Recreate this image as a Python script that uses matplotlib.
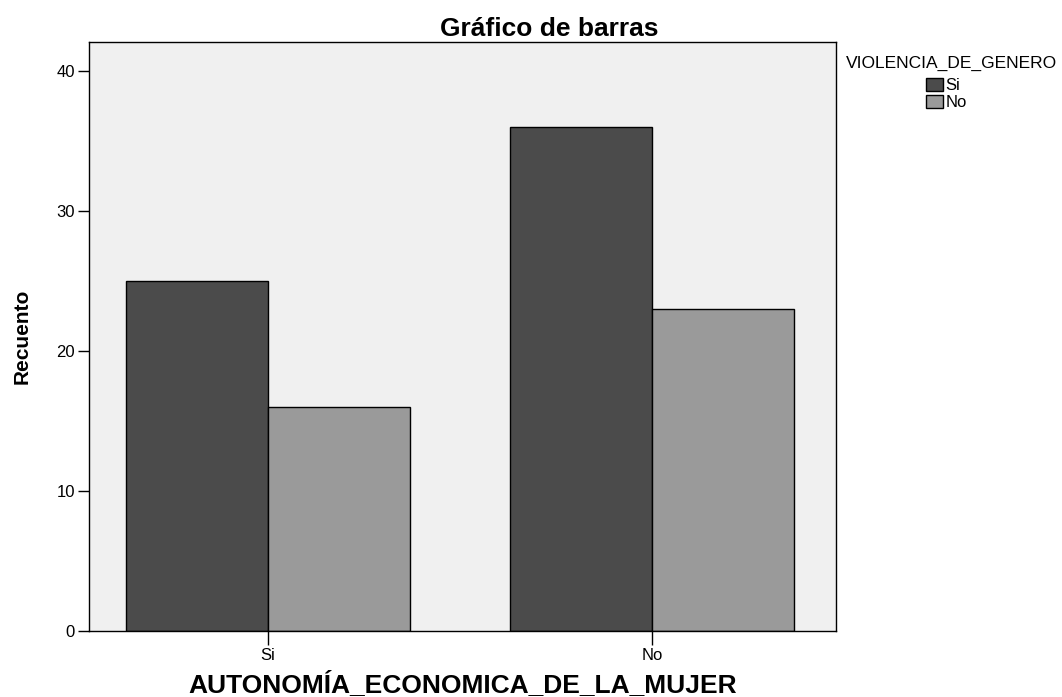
import numpy as np
import matplotlib.pyplot as plt

plt.rcParams['font.family'] = ['Liberation Sans', 'DejaVu Sans']

categories = ['Si', 'No']
groups = ['Si', 'No']
si_values = [25, 36]
no_values = [16, 23]

colors = {'Si': '#4b4b4b', 'No': '#9a9a9a'}

fig = plt.figure(figsize=(10.62, 6.97), dpi=100)
ax = fig.add_axes([0.0838, 0.0947, 0.7034, 0.845])
ax.set_facecolor('#f0f0f0')

x = np.arange(len(categories))
w = 0.37
b1 = ax.bar(x - w / 2, si_values, w, color=colors['Si'], edgecolor='black', linewidth=1, label=groups[0])
b2 = ax.bar(x + w / 2, no_values, w, color=colors['No'], edgecolor='black', linewidth=1, label=groups[1])

ax.set_xlim(-0.466, 1.479)
ax.set_ylim(0, 42.1)
ax.set_yticks([0, 10, 20, 30, 40])
ax.set_xticks(x)
ax.set_xticklabels(categories)
ax.tick_params(axis='both', direction='out', length=8, width=1, labelsize=12, color='black', pad=2)
ax.tick_params(axis='x', length=10, pad=2)
for s in ax.spines.values():
    s.set_linewidth(1)

ax.set_ylabel('Recuento', fontsize=15, fontweight='bold')
ax.yaxis.set_label_coords(-0.077, 0.5)
ax.set_xlabel('AUTONOMÍA_ECONOMICA_DE_LA_MUJER', fontsize=19, fontweight='bold')
ax.xaxis.set_label_coords(0.5, -0.068)

fig.text(0.517, 0.959, 'Gráfico de barras', fontsize=19, fontweight='bold', ha='center', va='center')

fig.text(0.896, 0.9096, 'VIOLENCIA_DE_GENERO', fontsize=12.5, ha='center', va='center')
fig.legend(handles=[b1, b2], labels=groups, loc='upper left', bbox_to_anchor=(0.872, 0.888),
           frameon=False, fontsize=12, handlelength=1.0, handleheight=0.8, handletextpad=0.15,
           labelspacing=0.1, borderpad=0, borderaxespad=0)

plt.savefig('out.png', dpi=100)
